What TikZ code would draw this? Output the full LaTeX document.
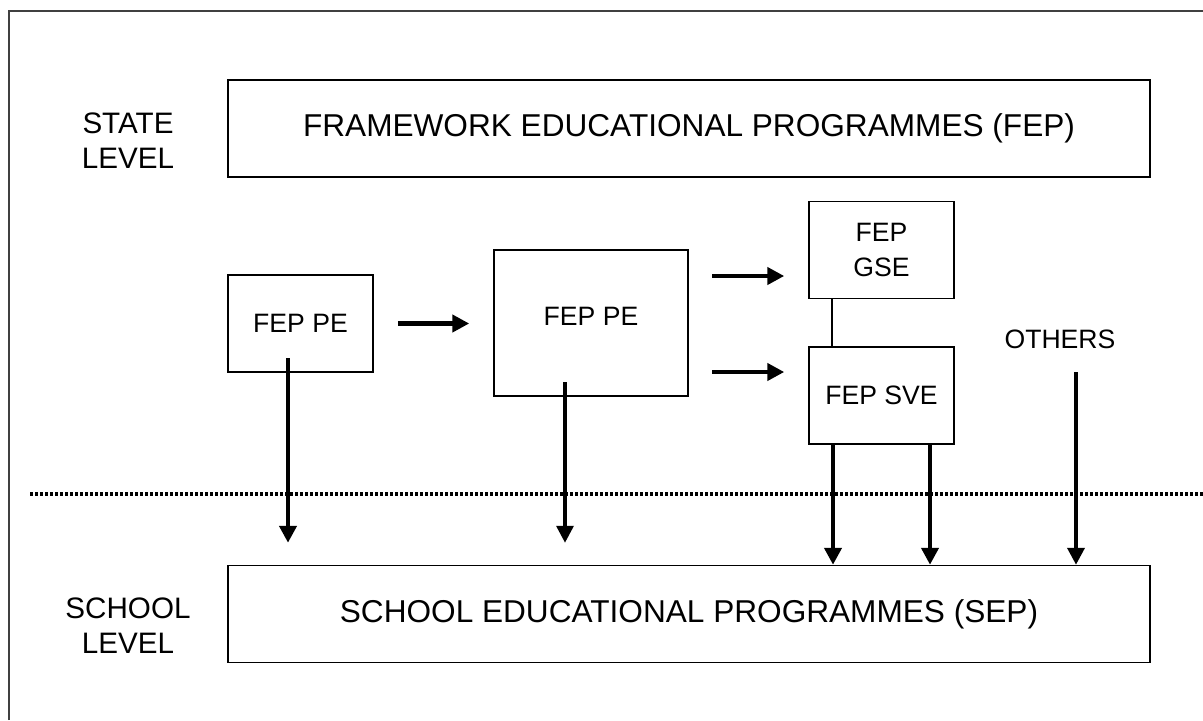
\documentclass[tikz,border=0pt]{standalone}
\usepackage{fontspec}
\setmainfont{Liberation Sans}
\usetikzlibrary{arrows.meta}

\begin{document}
\begin{tikzpicture}[x=0.5pt, y=0.5pt, >={Triangle[length=8.5pt, width=8.5pt]},
	level box/.style={draw, line width=0.75pt, minimum width=461pt, minimum height=48.5pt, font=\fontsize{15.8}{17.5}\selectfont},
	prog box/.style={draw, line width=0.75pt, minimum width=72.5pt, minimum height=48.5pt, align=center, font=\fontsize{13.3}{17.5}\selectfont},
	level label/.style={align=center, font=\fontsize{14.8}{17.5}\selectfont},
	flow/.style={->, line width=2.4pt, shorten <=12pt, shorten >=12pt}]

		\useasboundingbox (0,0) rectangle (1203,720);

		% frame
		\draw [line width=0.75pt, draw=black!75] (9,0) -- (9,709) -- (1203,709);

		% border between state and school level
		\coordinate (cut-l) at (30,226);
		\coordinate (cut-r) at (1203,226);
		\draw [line width=2pt, dash pattern=on 1.5pt off 1pt] (cut-l) -- (cut-r);

		% draw nodes
			% levels
			\node [level label] (state) at (128,579) {STATE\\LEVEL};
			\node [level label] (school) at (128,94) {SCHOOL\\LEVEL};

			% state and school programmes
			\node [level box] (fep) at (689,591.5) {FRAMEWORK EDUCATIONAL PROGRAMMES (FEP)};
			\node [level box] (sep) at (689,106) {SCHOOL EDUCATIONAL PROGRAMMES (SEP)};

			% framework programmes
			\node [prog box] (pe1) at (300.5,396.5) {FEP PE};
			\node [prog box, minimum width=97pt, minimum height=73pt, text depth=7pt] (pe2) at (591,397) {FEP PE};
			\node [prog box] (gse) at (881.5,470) {FEP\\GSE};
			\node [prog box] (sve) at (881.5,324.5) {FEP SVE};
			\node [level label, font=\fontsize{13.3}{17.5}\selectfont] (others) at (1060,381) {OTHERS};

		% free ends
		\coordinate (pe2-up) at (688,444);
		\coordinate (pe2-down) at (688,348);
		\coordinate (pe1-out) at (288,362);
		\coordinate (pe2-out) at (565,338);
		\coordinate (sve-l) at ([xshift=-24.25pt]sve.south);
		\coordinate (sve-r) at ([xshift=24.25pt]sve.south);
		\coordinate (others-out) at (1076,348);

		% lines between programmes
		\draw [flow] (pe1.east) -- (pe1.east -| pe2.west);
		\draw [flow] (pe2-up) -- (pe2-up -| gse.west);
		\draw [flow] (pe2-down) -- (pe2-down -| sve.west);
		\draw [line width=0.75pt] ([xshift=-24.75pt]gse.south) -- ([xshift=-24.75pt]sve.north);

		% arrows down to school level
		\foreach \c/\w/\s in {pe1-out/2.4pt/11pt, pe2-out/1.7pt/11pt, sve-l/2.1pt/0pt, sve-r/2.1pt/0pt, others-out/1.9pt/0pt}
			\draw [->, line width=\w, shorten >=\s] (\c) -- (\c |- sep.north);

\end{tikzpicture}
\end{document}
